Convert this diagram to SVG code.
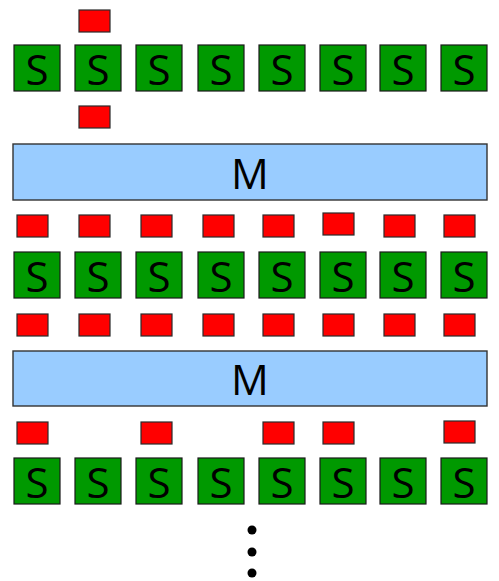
<svg xmlns="http://www.w3.org/2000/svg" width="499" height="581" viewBox="0 0 499 581">
  <style>
    .s { fill: #009900; stroke: #1a1a1a; stroke-width: 1.2; }
    .r { fill: #ff0000; stroke: #2a2a2a; stroke-width: 1.2; }
    .m { fill: #99ccff; stroke: #333333; stroke-width: 1.4; }
    .t { font-family: "Open Sans", "DejaVu Sans", sans-serif; font-size: 42px; fill: #000; text-anchor: middle; dominant-baseline: central; }
    .dot { fill: #000; }
  </style>
  <defs>
    <g id="sq">
      <rect class="s" x="0" y="0" width="46" height="46"/>
      <text class="t" x="23" y="23">S</text>
    </g>
    <rect id="msg" class="r" x="0" y="0" width="31" height="22"/>
  </defs>

  <!-- top row of S nodes -->
  <g id="row1">
    <use id="s1-1" href="#sq" x="14" y="45"/>
    <use id="s1-2" href="#sq" x="75" y="45"/>
    <use id="s1-3" href="#sq" x="136" y="45"/>
    <use id="s1-4" href="#sq" x="198" y="45"/>
    <use id="s1-5" href="#sq" x="259" y="45"/>
    <use id="s1-6" href="#sq" x="320" y="45"/>
    <use id="s1-7" href="#sq" x="380" y="45"/>
    <use id="s1-8" href="#sq" x="441" y="45"/>
  </g>
  <g id="msgs1">
    <use href="#msg" x="79" y="10"/>
    <use href="#msg" x="79" y="106"/>
  </g>

  <!-- first M bar -->
  <g id="m1">
    <rect class="m" x="13" y="144" width="474" height="56"/>
    <text class="t" x="250" y="172">M</text>
  </g>

  <g id="msgs2">
    <use href="#msg" x="17" y="215"/>
    <use href="#msg" x="79" y="215"/>
    <use href="#msg" x="141" y="215"/>
    <use href="#msg" x="203" y="215"/>
    <use href="#msg" x="263" y="215"/>
    <use href="#msg" x="323" y="213"/>
    <use href="#msg" x="384" y="215"/>
    <use href="#msg" x="444" y="215"/>
  </g>

  <!-- middle row of S nodes -->
  <g id="row2">
    <use id="s2-1" href="#sq" x="14" y="252"/>
    <use id="s2-2" href="#sq" x="75" y="252"/>
    <use id="s2-3" href="#sq" x="136" y="252"/>
    <use id="s2-4" href="#sq" x="198" y="252"/>
    <use id="s2-5" href="#sq" x="259" y="252"/>
    <use id="s2-6" href="#sq" x="320" y="252"/>
    <use id="s2-7" href="#sq" x="380" y="252"/>
    <use id="s2-8" href="#sq" x="441" y="252"/>
  </g>

  <g id="msgs3">
    <use href="#msg" x="17" y="314"/>
    <use href="#msg" x="79" y="314"/>
    <use href="#msg" x="141" y="314"/>
    <use href="#msg" x="203" y="314"/>
    <use href="#msg" x="263" y="314"/>
    <use href="#msg" x="323" y="314"/>
    <use href="#msg" x="384" y="314"/>
    <use href="#msg" x="444" y="314"/>
  </g>

  <!-- second M bar -->
  <g id="m2">
    <rect class="m" x="13" y="351" width="474" height="55"/>
    <text class="t" x="250" y="378">M</text>
  </g>

  <g id="msgs4">
    <use href="#msg" x="17" y="422"/>
    <use href="#msg" x="141" y="422"/>
    <use href="#msg" x="263" y="422"/>
    <use href="#msg" x="323" y="422"/>
    <use href="#msg" x="444" y="421"/>
  </g>

  <!-- bottom row of S nodes -->
  <g id="row3">
    <use id="s3-1" href="#sq" x="14" y="458"/>
    <use id="s3-2" href="#sq" x="75" y="458"/>
    <use id="s3-3" href="#sq" x="136" y="458"/>
    <use id="s3-4" href="#sq" x="198" y="458"/>
    <use id="s3-5" href="#sq" x="259" y="458"/>
    <use id="s3-6" href="#sq" x="320" y="458"/>
    <use id="s3-7" href="#sq" x="380" y="458"/>
    <use id="s3-8" href="#sq" x="441" y="458"/>
  </g>

  <!-- continuation dots -->
  <g id="ellipsis">
    <circle class="dot" cx="252" cy="530" r="4.5"/>
    <circle class="dot" cx="252" cy="552" r="4.5"/>
    <circle class="dot" cx="252" cy="573" r="4.5"/>
  </g>

  <g id="connectors"/>
</svg>
